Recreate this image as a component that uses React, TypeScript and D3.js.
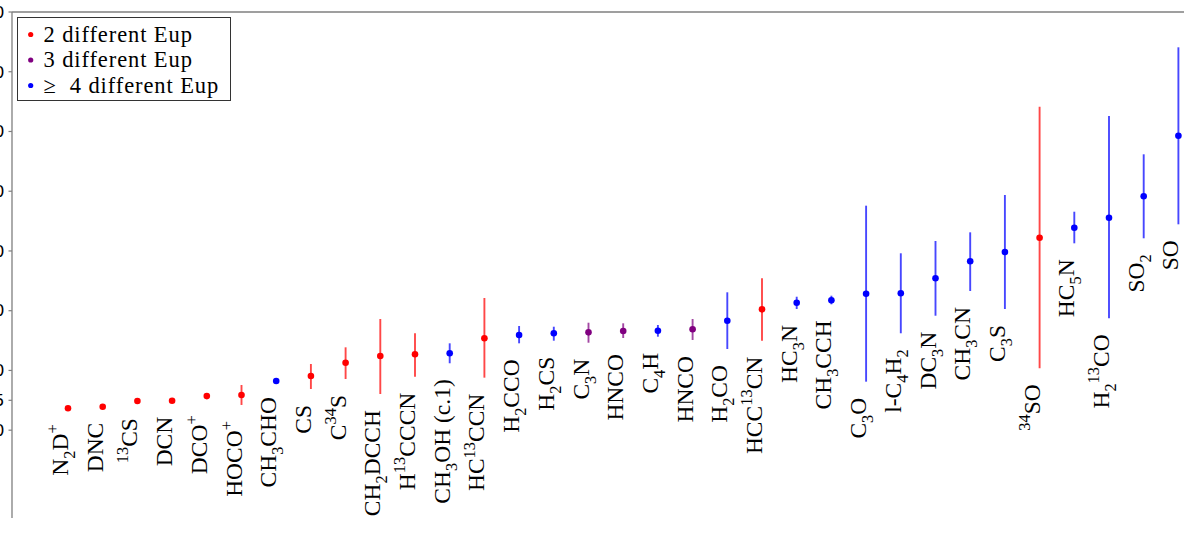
import React from 'react';
import * as d3 from 'd3';

const categories = [
  'N_2D^+', 'DNC', '^{13}CS', 'DCN', 'DCO^+', 'HOCO^+', 'CH_3CHO', 'CS', 'C^{34}S',
  'CH_2DCCH', 'H^{13}CCCN', 'CH_3OH (c.1)', 'HC^{13}CCN', 'H_2CCO', 'H_2CS', 'C_3N',
  'HNCO', 'C_4H', 'HNCO', 'H_2CO', 'HCC^{13}CN', 'HC_3N', 'CH_3CCH', 'C_3O',
  'l-C_4H_2', 'DC_3N', 'CH_3CN', 'C_3S', '^{34}SO', 'HC_5N', 'H_2^{13}CO', 'SO_2', 'SO',
];
// number of different Eup (2, 3, >=4)
const groups = [
  2, 2, 2, 2, 2, 2, 4, 2, 2,
  2, 2, 4, 2, 4, 4, 3,
  3, 4, 3, 4, 2, 4, 4, 4,
  4, 4, 4, 4, 2, 4, 4, 4, 4,
];
const values = [
  13.66, 13.93, 14.88, 14.93, 15.72, 15.89, 18.23, 19.07, 21.3,
  22.42, 22.7, 22.87, 25.38, 25.93, 26.22, 26.38,
  26.6, 26.65, 26.89, 28.33, 30.23, 31.34, 31.74, 32.85,
  32.91, 35.42, 38.27, 39.83, 42.22, 43.89, 45.57, 49.15, 59.29,
];
const lowerBounds = [
  13.66, 13.93, 14.7, 14.93, 15.17, 14.22, 18.23, 16.89, 18.57,
  16.06, 18.95, 21.2, 18.79, 24.54, 24.98, 24.64,
  25.43, 25.65, 25.1, 23.59, 24.98, 30.28, 31.07, 18.12,
  26.22, 29.16, 33.3, 30.28, 20.36, 41.28, 28.73, 42.12, 44.46,
];
const upperBounds = [
  13.66, 13.93, 15.06, 14.93, 16.17, 17.56, 18.23, 21.08, 23.87,
  28.61, 26.22, 24.54, 32.13, 27.44, 27.32, 27.99,
  27.89, 27.61, 28.61, 33.08, 35.42, 32.34, 32.51, 47.58,
  39.61, 41.67, 43.12, 49.37, 64.15, 46.57, 62.59, 56.18, 74.09,
];
const yTicks = [10, 15, 20, 30, 40, 50, 60, 70, 80];
const legendGroups = [2, 3, 4];
const legendLabels = ['2 different Eup', '3 different Eup', '\u2265\u00a0 4 different Eup'];
const groupColors: Record<number, string> = { 2: '#ff0000', 3: '#800080', 4: '#0000ff' };

const SERIF = "'Liberation Serif', 'Times New Roman', 'DejaVu Serif', serif";

type Seg = { text: string; type: '' | 'sub' | 'sup' };
function parse(s: string): Seg[] {
  const out: Seg[] = [];
  let buf = '';
  let i = 0;
  while (i < s.length) {
    const c = s[i];
    if (c === '_' || c === '^') {
      if (buf) { out.push({ text: buf, type: '' }); buf = ''; }
      let t = '';
      if (s[i + 1] === '{') {
        const j = s.indexOf('}', i + 2);
        t = s.slice(i + 2, j);
        i = j + 1;
      } else {
        t = s[i + 1];
        i += 2;
      }
      out.push({ text: t, type: c === '_' ? 'sub' : 'sup' });
    } else {
      buf += c;
      i++;
    }
  }
  if (buf) out.push({ text: buf, type: '' });
  return out;
}

function Rich({ s, fs }: { s: string; fs: number }) {
  const segs = parse(s);
  let cur = 0;
  return (
    <>
      {segs.map((seg, i) => {
        const target = seg.type === 'sub' ? 0.3 * fs : seg.type === 'sup' ? -0.42 * fs : 0;
        const dy = target - cur;
        cur = target;
        return (
          <tspan key={i} dy={dy} fontSize={seg.type ? fs * 0.7 : fs}>
            {seg.text}
          </tspan>
        );
      })}
    </>
  );
}

export default function App() {
  const W = 1184;
  const H = 533;
  const axisX = 12;
  const x = d3.scaleLinear().domain([0, categories.length - 1]).range([68, 68 + 34.7 * (categories.length - 1)]);
  const y = d3.scaleLinear().domain([-4.7, 80]).range([518, 12]);
  const spine = '#7f7f7f';
  const labelFs = 23.5;

  return (
    <svg width={W} height={H} style={{ position: 'absolute', left: 0, top: 0, background: '#fff' }}>
      {/* spines */}
      <line x1={axisX} x2={W} y1={y(80)} y2={y(80)} stroke={spine} strokeWidth={1.3} />
      <line x1={axisX} x2={axisX} y1={y(80)} y2={y(-4.7)} stroke={spine} strokeWidth={1.3} />
      {/* y ticks */}
      {yTicks.map((t) => (
        <g key={t} transform={`translate(${axisX},${y(t)})`}>
          <line x1={-3.5} x2={0} stroke={spine} strokeWidth={1.2} />
          <text x={-7.5} dy="0.36em" textAnchor="end" style={{ fontFamily: "'DejaVu Sans', sans-serif", fontSize: 16 }} fill="#000">
            {t}
          </text>
        </g>
      ))}
      {/* error bars and points */}
      {categories.map((c, i) => {
        const col = groupColors[groups[i]];
        const cx = x(i);
        return (
          <g key={i}>
            {upperBounds[i] > lowerBounds[i] && (
              <line x1={cx} x2={cx} y1={y(upperBounds[i])} y2={y(lowerBounds[i])} stroke={col} strokeWidth={1.9} strokeOpacity={0.72} />
            )}
            <circle cx={cx} cy={y(values[i])} r={3.3} fill={col} />
            <text
              transform={`translate(${cx},${y(lowerBounds[i]) + 16}) rotate(-90)`}
              textAnchor="end"
              dy="0.33em"
              style={{ fontFamily: SERIF, fontSize: labelFs }}
              fill="#000"
            >
              <Rich s={c} fs={labelFs} />
            </text>
          </g>
        );
      })}
      {/* legend */}
      <g>
        <rect x={17.5} y={17.5} width={213} height={83} fill="#fff" stroke="#333" strokeWidth={1} />
        {legendGroups.map((g, i) => (
          <g key={g} transform={`translate(0,${34.5 + i * 25.5})`}>
            <circle cx={30.7} cy={0} r={2.6} fill={groupColors[g]} />
            <text x={43.5} dy="0.33em" fill="#000" style={{ fontFamily: SERIF, fontSize: 22.5, letterSpacing: 0.9, whiteSpace: 'pre' }}>
              {legendLabels[i]}
            </text>
          </g>
        ))}
      </g>
    </svg>
  );
}
